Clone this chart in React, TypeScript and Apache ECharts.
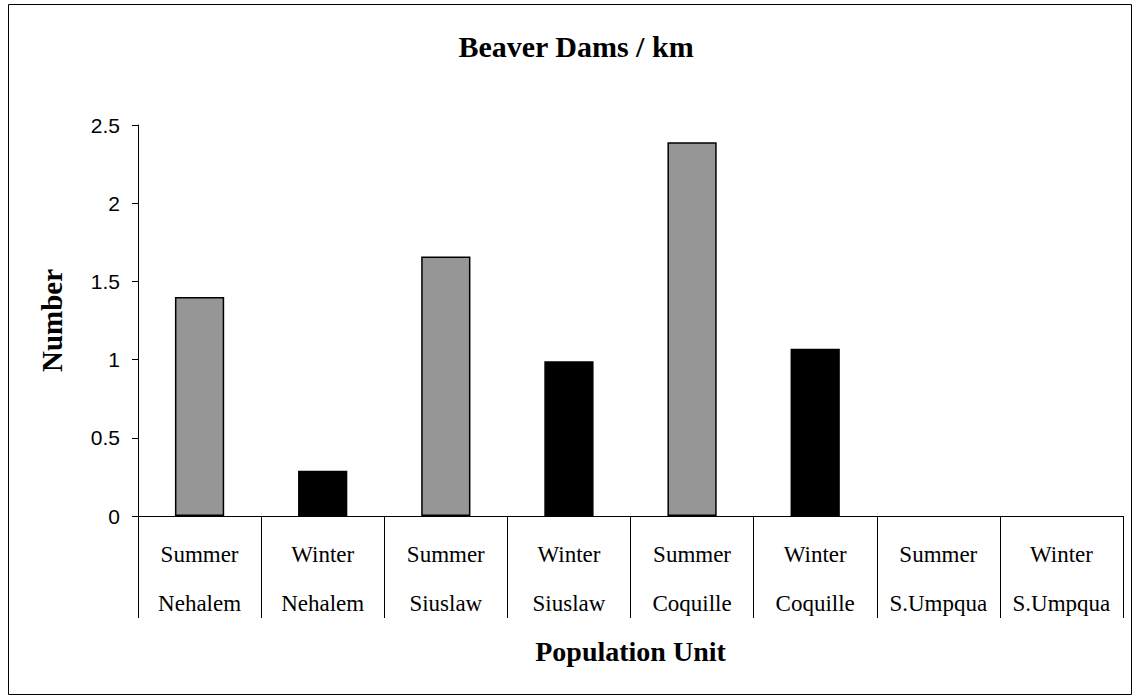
import React, { useEffect, useRef } from "react";
import * as echarts from "echarts";

const seasons = ["Summer", "Winter", "Summer", "Winter", "Summer", "Winter", "Summer", "Winter"];
const regions = ["Nehalem", "Nehalem", "Siuslaw", "Siuslaw", "Coquille", "Coquille", "S.Umpqua", "S.Umpqua"];
const damsPerKm = [1.4, 0.29, 1.66, 0.99, 2.39, 1.07, 0, 0];
const yTicks = { min: 0, max: 2.5, interval: 0.5 };
const seasonColors: Record<string, string> = { Summer: "#969696", Winter: "#000000" };

const chartTitle = "Beaver Dams / km";
const xTitle = "Population Unit";
const yTitle = "Number";

export default function App() {
  const ref = useRef<HTMLDivElement>(null);
  useEffect(() => {
    if (!ref.current) return;
    const chart = echarts.init(ref.current, undefined, { renderer: "svg" });
    const categories = seasons.map((s, i) => s + "\n" + regions[i]);
    chart.setOption({
      animation: false,
      backgroundColor: "#ffffff",
      grid: { left: 138, right: 10, top: 125, bottom: 180, containLabel: false },
      graphic: [
        {
          type: "rect",
          shape: { x: 8.5, y: 4.5, width: 1123, height: 690 },
          style: { fill: "none", stroke: "#000", lineWidth: 1 },
          silent: true,
        },
        {
          type: "text",
          x: 576,
          y: 46,
          style: {
            text: chartTitle,
            font: "bold 30px 'Liberation Serif'",
            fill: "#000",
            textAlign: "center",
            textVerticalAlign: "middle",
          },
        },
      ],
      xAxis: {
        type: "category",
        data: categories,
        boundaryGap: true,
        axisLine: { show: true, lineStyle: { color: "#000", width: 1 } },
        axisTick: { show: true, interval: 0, length: 102, alignWithLabel: false, lineStyle: { color: "#000", width: 1 } },
        axisLabel: {
          interval: 0,
          margin: 14,
          fontFamily: "Liberation Serif",
          fontSize: 23,
          lineHeight: 49,
          color: "#000",
        },
        name: xTitle,
        nameLocation: "middle",
        nameGap: 121,
        nameTextStyle: { fontFamily: "Liberation Serif", fontWeight: "bold", fontSize: 28, color: "#000" },
      },
      yAxis: {
        type: "value",
        min: yTicks.min,
        max: yTicks.max,
        interval: yTicks.interval,
        axisLine: { show: true, lineStyle: { color: "#000", width: 1 } },
        axisTick: { show: true, length: 6, lineStyle: { color: "#000" } },
        splitLine: { show: false },
        axisLabel: { fontFamily: "Liberation Sans", fontSize: 21, color: "#000", margin: 18 },
        name: yTitle,
        nameLocation: "middle",
        nameGap: 72,
        nameTextStyle: { fontFamily: "Liberation Serif", fontWeight: "bold", fontSize: 29, color: "#000" },
      },
      series: [
        {
          type: "bar",
          barCategoryGap: "60%",
          data: damsPerKm.map((v, i) => ({
            value: v,
            itemStyle: {
              color: seasonColors[seasons[i]],
              borderColor: "#000",
              borderWidth: v === 0 ? 0 : 1.5,
            },
          })),
        },
      ],
    });
    return () => chart.dispose();
  }, []);
  return (
    <div
      ref={ref}
      style={{ position: "absolute", left: 0, top: 0, width: 1133, height: 696, background: "#fff" }}
    />
  );
}
